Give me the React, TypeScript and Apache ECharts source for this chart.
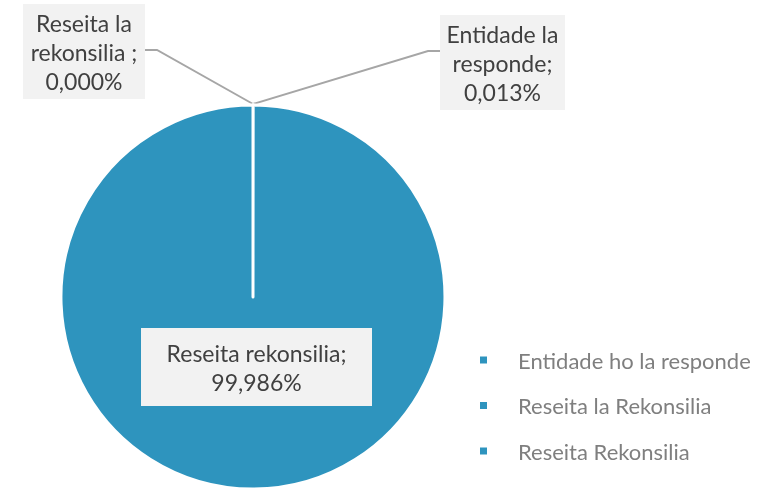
import React, { useEffect, useRef } from 'react';
import * as echarts from 'echarts';

const legendNames = ['Entidade ho la responde', 'Reseita la Rekonsilia', 'Reseita Rekonsilia'];
const labelNames = ['Entidade la\nresponde;', 'Reseita la\nrekonsilia ;', 'Reseita rekonsilia;'];
const values = [0.013, 0.0004, 99.986];

const sliceColor = '#2E94BE';
const FONT = 'Lato, "Open Sans", sans-serif';

// label box layout (not data)
const labelLayouts: any[] = [
  { x: 502.5, y: 62.5, width: 109, padding: [4, 8], line: [[253, 104], [428, 51], [440, 51]] },
  { x: 84, y: 51.5, width: 106, padding: [4, 8], line: [[253, 104], [157, 50], [145, 50]] },
  { x: 256.5, y: 367, width: 213, padding: [10, 9], line: null },
];

export default function App() {
  const ref = useRef<HTMLDivElement>(null);
  useEffect(() => {
    if (!ref.current) return;
    const chart = echarts.init(ref.current, null, { renderer: 'svg' });
    const data = values.map((v, i) => ({
      name: legendNames[i],
      value: v,
      label: {
        width: labelLayouts[i].width,
        padding: labelLayouts[i].padding,
      },
      labelLine: { show: !!labelLayouts[i].line },
    }));
    chart.setOption({
      animation: false,
      color: [sliceColor, sliceColor, sliceColor],
      legend: {
        orient: 'vertical',
        left: 473,
        top: 344,
        itemWidth: 9,
        itemHeight: 9,
        itemGap: 23.5,
        icon: 'rect',
        textStyle: {
          color: '#7F7F7F',
          fontSize: 22,
          fontFamily: FONT,
          padding: [0, 0, 0, 25],
        },
        data: legendNames,
      },
      series: [
        {
          type: 'pie',
          center: [253, 297],
          radius: [0, 192],
          startAngle: 90,
          clockwise: true,
          avoidLabelOverlap: false,
          itemStyle: { borderColor: '#ffffff', borderWidth: 3 },
          emphasis: { disabled: true },
          label: {
            show: true,
            position: 'outside',
            formatter: (p: any) =>
              `${labelNames[p.dataIndex]}\n${(p.value as number).toFixed(3).replace('.', ',')}%`,
            color: '#404040',
            fontSize: 23,
            fontFamily: FONT,
            lineHeight: 29,
            backgroundColor: '#F2F2F2',
            align: 'center',
            overflow: 'none',
          },
          labelLine: {
            show: true,
            lineStyle: { color: '#A6A6A6', width: 2 },
          },
          labelLayout: (params: any) => {
            const l = labelLayouts[params.dataIndex];
            const out: any = { x: l.x, y: l.y, align: 'center', verticalAlign: 'middle' };
            if (l.line) out.labelLinePoints = l.line;
            return out;
          },
          data,
        },
      ],
    });
    return () => chart.dispose();
  }, []);
  return <div ref={ref} style={{ position: 'fixed', left: 0, top: 0, width: 771, height: 489 }} />;
}
